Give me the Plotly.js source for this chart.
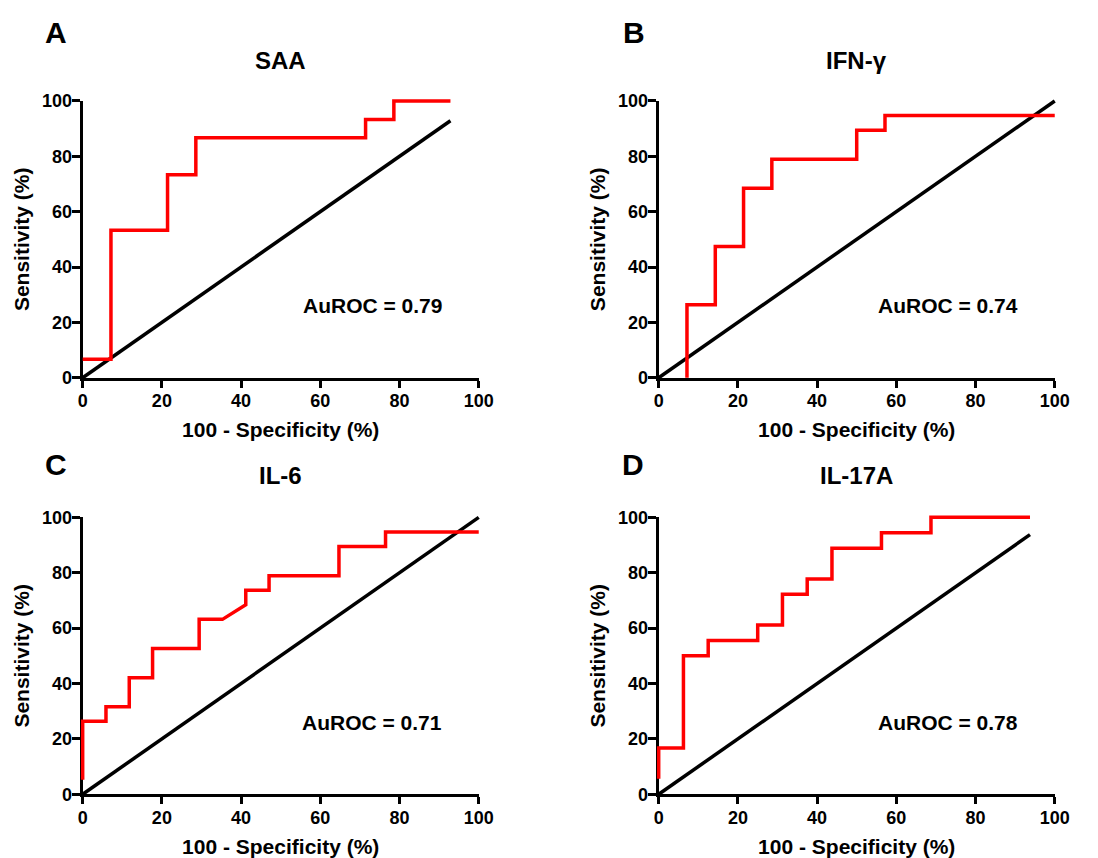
<!DOCTYPE html>
<html>
<head>
<meta charset="utf-8">
<script src="https://cdn.plot.ly/plotly-3.0.1.min.js"></script>
<style>html,body{margin:0;padding:0;background:#fff;}#chart{width:1098px;height:858px;}</style>
</head>
<body>
<div id="chart"></div>
<script>
// Panel A: SAA
const saaX = [0, 7.14, 7.14, 21.43, 21.43, 28.57, 28.57, 71.43, 71.43, 78.57, 78.57, 92.86];
const saaY = [6.67, 6.67, 53.33, 53.33, 73.33, 73.33, 86.67, 86.67, 93.33, 93.33, 100, 100];
const saaRef = [0, 92.86];
// Panel B: IFN-γ
const ifnX = [7.14, 7.14, 14.29, 14.29, 21.43, 21.43, 28.57, 28.57, 50, 50, 57.14, 57.14, 100];
const ifnY = [0, 26.32, 26.32, 47.37, 47.37, 68.42, 68.42, 78.95, 78.95, 89.47, 89.47, 94.74, 94.74];
const ifnRef = [0, 100];
// Panel C: IL-6
const il6X = [0, 0, 5.88, 5.88, 11.76, 11.76, 17.65, 17.65, 29.41, 29.41, 35.29, 41.18, 41.18, 47.06, 47.06, 64.71, 64.71, 76.47, 76.47, 100];
const il6Y = [5.26, 26.32, 26.32, 31.58, 31.58, 42.11, 42.11, 52.63, 52.63, 63.16, 63.16, 68.42, 73.68, 73.68, 78.95, 78.95, 89.47, 89.47, 94.74, 94.74];
const il6Ref = [0, 100];
// Panel D: IL-17A
const il17X = [0, 0, 6.25, 6.25, 12.5, 12.5, 25, 25, 31.25, 31.25, 37.5, 37.5, 43.75, 43.75, 56.25, 56.25, 68.75, 68.75, 93.75];
const il17Y = [5.56, 16.67, 16.67, 50, 50, 55.56, 55.56, 61.11, 61.11, 72.22, 72.22, 77.78, 77.78, 88.89, 88.89, 94.44, 94.44, 100, 100];
const il17Ref = [0, 93.75];

const panelLetters = ["A", "B", "C", "D"];
const panelTitles = ["SAA", "IFN-γ", "IL-6", "IL-17A"];
const aurocLabels = ["AuROC = 0.79", "AuROC = 0.74", "AuROC = 0.71", "AuROC = 0.78"];
const tickVals = [0, 20, 40, 60, 80, 100];
const xTitle = "100 - Specificity (%)";
const yTitle = "Sensitivity (%)";

const FONT = "Liberation Sans, Arial, sans-serif";
const RED = "#ff0000";

const curves = [[saaX, saaY, saaRef], [ifnX, ifnY, ifnRef], [il6X, il6Y, il6Ref], [il17X, il17Y, il17Ref]];
const traces = [];
curves.forEach((c, i) => {
  const xa = i === 0 ? "x" : "x" + (i + 1);
  const ya = i === 0 ? "y" : "y" + (i + 1);
  traces.push({x: c[2], y: c[2], xaxis: xa, yaxis: ya, mode: "lines", cliponaxis: false,
    line: {color: "#000", width: 3.5}, hoverinfo: "skip", showlegend: false});
  traces.push({x: c[0], y: c[1], xaxis: xa, yaxis: ya, mode: "lines", cliponaxis: false,
    line: {color: RED, width: 3.5}, hoverinfo: "skip", showlegend: false});
});

const xDomL = [0.0753, 0.4360], xDomR = [0.5999, 0.9606];
const yDomT = [0.5598, 0.8823], yDomB = [0.0743, 0.3970];

function xAxis(dom, anchor) {
  return {domain: dom, anchor: anchor, range: [0, 100], tickvals: tickVals, showgrid: false, zeroline: false,
    showline: true, linecolor: "#000", linewidth: 3, ticks: "outside", ticklen: 7, tickwidth: 3, tickcolor: "#000",
    layer: "below traces", ticklabelstandoff: -2,
    tickfont: {family: FONT, size: 18, color: "#000", weight: "bold"},
    title: {text: xTitle, font: {family: FONT, size: 21, color: "#000", weight: "bold"}, standoff: 13},
    fixedrange: true};
}
function yAxis(dom, anchor) {
  return {domain: dom, anchor: anchor, range: [0, 100], tickvals: tickVals, showgrid: false, zeroline: false,
    showline: true, linecolor: "#000", linewidth: 3, ticks: "outside", ticklen: 8, tickwidth: 3, tickcolor: "#000",
    layer: "below traces", ticklabelstandoff: -4,
    tickfont: {family: FONT, size: 18, color: "#000", weight: "bold"},
    title: {text: yTitle, font: {family: FONT, size: 21, color: "#000", weight: "bold"}, standoff: 7},
    fixedrange: true};
}

const annotations = [];
const letterPos = [[0.0507, 0.962], [0.5774, 0.962], [0.0507, 0.4585], [0.5765, 0.4585]];
const titleY = [0.930, 0.930, 0.4456, 0.4456];
panelLetters.forEach((l, i) => {
  annotations.push({text: l, xref: "paper", yref: "paper", x: letterPos[i][0], y: letterPos[i][1],
    xanchor: "center", yanchor: "middle", showarrow: false,
    font: {family: FONT, size: 30, color: "#000", weight: "bold"}});
  const xr = i === 0 ? "x domain" : "x" + (i + 1) + " domain";
  const yr = i === 0 ? "y domain" : "y" + (i + 1) + " domain";
  annotations.push({text: panelTitles[i], xref: xr, yref: "paper", x: 0.5, y: titleY[i],
    xanchor: "center", yanchor: "middle", showarrow: false,
    font: {family: FONT, size: 24, color: "#000", weight: "bold"}});
  annotations.push({text: aurocLabels[i], xref: xr, yref: yr, x: 0.731, y: 0.26,
    xanchor: "center", yanchor: "middle", showarrow: false,
    font: {family: FONT, size: 21, color: "#000", weight: "bold"}});
});

const layout = {
  width: 1098, height: 858,
  margin: {l: 0, r: 0, t: 0, b: 0},
  paper_bgcolor: "#fff", plot_bgcolor: "#fff",
  showlegend: false,
  xaxis: xAxis(xDomL, "y"), yaxis: yAxis(yDomT, "x"),
  xaxis2: xAxis(xDomR, "y2"), yaxis2: yAxis(yDomT, "x2"),
  xaxis3: xAxis(xDomL, "y3"), yaxis3: yAxis(yDomB, "x3"),
  xaxis4: xAxis(xDomR, "y4"), yaxis4: yAxis(yDomB, "x4"),
  annotations: annotations
};

function unclip() {
  // let the curves draw their full stroke width at the plot edges, as in the reference
  const gd = document.getElementById("chart");
  const els = gd.querySelectorAll(".scatterlayer [clip-path], .scatterlayer, .plot[clip-path], .overplot [clip-path]");
  els.forEach(el => { el.removeAttribute("clip-path"); el.style.clipPath = "none"; });
}
Plotly.newPlot("chart", traces, layout, {staticPlot: true, displayModeBar: false}).then(() => {
  unclip();
  setTimeout(unclip, 50);
});
</script>
</body>
</html>
